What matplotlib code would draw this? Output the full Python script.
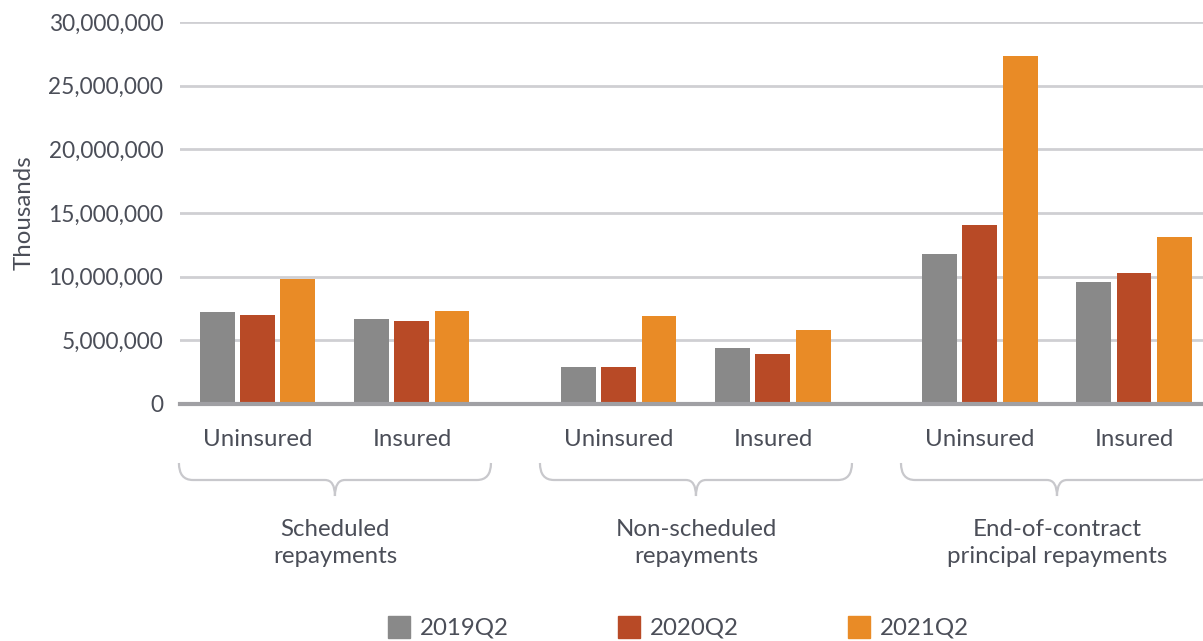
import matplotlib.pyplot as plt
from matplotlib.patches import Rectangle, PathPatch
from matplotlib.path import Path
from matplotlib.ticker import FuncFormatter
from matplotlib.transforms import blended_transform_factory

groups = ["Scheduled\nrepayments", "Non-scheduled\nrepayments", "End-of-contract\nprincipal repayments"]
subgroups = ["Uninsured", "Insured"]
series = ["2019Q2", "2020Q2", "2021Q2"]
colors = ["#898989", "#b84a26", "#e98b26"]

# thousands, order: sched unins, sched ins, nonsched unins, nonsched ins, eoc unins, eoc ins
v2019 = [7230000, 6680000, 2900000, 4400000, 11780000, 9580000]
v2020 = [6990000, 6520000, 2900000, 3930000, 14060000, 10290000]
v2021 = [9820000, 7300000, 6900000, 5800000, 27340000, 13120000]
values = [v2019, v2020, v2021]

TXT = "#4b4e58"
FS = 16.3
FS2 = 17.3
plt.rcParams["font.family"] = ["Lato", "DejaVu Sans"]

fig = plt.figure(figsize=(12.03, 6.41), dpi=100)
ax = fig.add_axes([180 / 1203, 237 / 641, 1023 / 1203, 382 / 641])

gstep = 2.344
centers = [g * gstep + s for g in range(len(groups)) for s in range(len(subgroups))]
for i, (name, vals) in enumerate(zip(series, values)):
    ax.bar([c + (i - 1) * 0.26 for c in centers], vals, width=0.227, color=colors[i], label=name, zorder=3)

ax.set_xlim(-0.506, 6.136)
ax.set_ylim(0, 30000000)
ax.set_yticks(range(0, 30000001, 5000000))
ax.yaxis.set_major_formatter(FuncFormatter(lambda v, p: f"{int(v):,}"))
ax.tick_params(axis="y", length=0, pad=12, labelsize=FS, labelcolor=TXT)
ax.set_xticks([])
ax.grid(axis="y", color="#cfcfd3", linewidth=2, zorder=0)
for s in ["top", "right", "left"]:
    ax.spines[s].set_visible(False)
ax.spines["bottom"].set_color("#a0a0a4")
ax.spines["bottom"].set_linewidth(3)
ax.spines["bottom"].set_zorder(4)
ax.set_ylabel("Thousands", fontsize=FS2, color=TXT, labelpad=10)

tr = blended_transform_factory(ax.transData, ax.transAxes)


def py(ypx):
    return (404 - ypx) / 382


for c, lab in zip(centers, subgroups * len(groups)):
    ax.text(c, py(440), lab, transform=tr, ha="center", va="center", fontsize=FS2, color=TXT, clip_on=False)

for g, lab in enumerate(groups):
    c = g * gstep + 0.5
    ax.text(c, py(543), lab, transform=tr, ha="center", va="center", fontsize=FS2, color=TXT,
            linespacing=1.3, clip_on=False)
    pts = [(-156, 463), (-156, 480), (-142, 480), (-10, 480), (0, 480), (0, 496),
           (0, 480), (10, 480), (142, 480), (156, 480), (156, 463)]
    codes = [Path.MOVETO, Path.CURVE3, Path.CURVE3, Path.LINETO, Path.CURVE3, Path.CURVE3,
             Path.CURVE3, Path.CURVE3, Path.LINETO, Path.CURVE3, Path.CURVE3]
    verts = [(c + dx / 154, py(y)) for dx, y in pts]
    ax.add_patch(PathPatch(Path(verts, codes), transform=tr, fill=False, edgecolor="#c8c8cc",
                           linewidth=1.6, clip_on=False))

# legend
for i, name in enumerate(series):
    x0 = 388 + i * 230
    fig.add_artist(Rectangle((x0 / 1203, (641 - 638) / 641), 22 / 1203, 22 / 641,
                             transform=fig.transFigure, color=colors[i]))
    fig.text((x0 + 32) / 1203, (641 - 628) / 641, name, ha="left", va="center", fontsize=FS2, color=TXT)

fig.savefig("out.png", dpi=100)
